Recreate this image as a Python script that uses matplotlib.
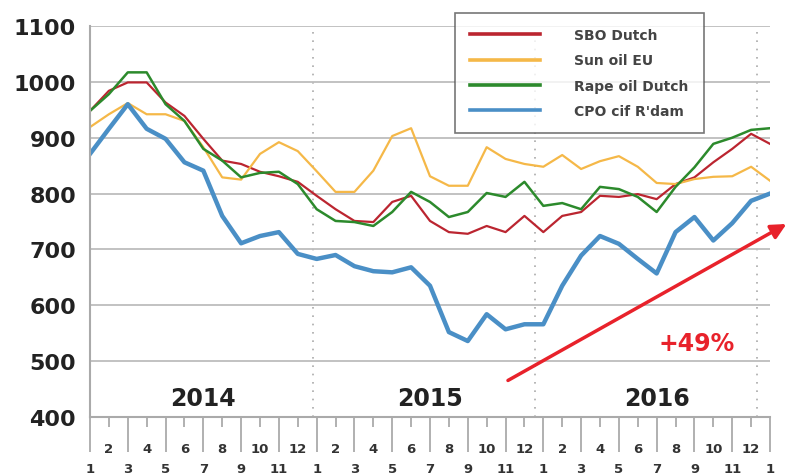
import numpy as np
import matplotlib
matplotlib.use("Agg")
import matplotlib.pyplot as plt

# monthly prices, Jan 2014 .. Jan 2017 (USD/t)
sbo_dutch = [948, 984, 999, 999, 963, 939, 898, 859, 853, 839, 831, 821,
             796, 772, 751, 749, 785, 796, 751, 731, 728, 742, 731, 760,
             731, 760, 767, 796, 794, 799, 790, 817, 829, 856, 880, 907, 889]
sun_oil_eu = [919, 942, 962, 942, 942, 930, 883, 829, 825, 871, 892, 876,
              840, 803, 803, 841, 903, 917, 831, 814, 814, 883, 862, 853,
              848, 869, 844, 858, 867, 848, 819, 817, 826, 830, 831, 848, 823]
rape_oil_dutch = [948, 978, 1017, 1017, 960, 930, 880, 859, 829, 837, 839, 817,
                  772, 751, 749, 742, 767, 803, 785, 758, 767, 801, 794, 821,
                  778, 783, 772, 812, 808, 794, 767, 812, 847, 889, 900, 914, 917]
cpo_rdam = [871, 916, 960, 916, 898, 856, 841, 760, 711, 724, 731, 692,
            683, 690, 670, 661, 659, 668, 635, 552, 536, 584, 557, 566,
            566, 635, 689, 724, 710, 683, 657, 731, 758, 716, 747, 787, 800]

month_labels = [str(m) for m in list(range(1, 13)) * 3 + [1]]
years = ["2014", "2015", "2016"]
year_pos = [6, 18, 30]
year_sep = [11.8, 23.55, 35.3]

x = np.arange(len(cpo_rdam))

fig = plt.figure(figsize=(7.85, 4.77), dpi=100)
ax = fig.add_axes([90 / 785, 1 - 418 / 477, 680 / 785, 391 / 477])

ax.plot(x, sbo_dutch, color="#bb2530", lw=1.6, label="SBO Dutch")
ax.plot(x, sun_oil_eu, color="#f5b848", lw=1.6, label="Sun oil EU")
ax.plot(x, rape_oil_dutch, color="#2c8a2c", lw=1.8, label="Rape oil Dutch")
ax.plot(x, cpo_rdam, color="#4a8fc6", lw=3.2, label="CPO cif R'dam")

ax.set_xlim(0, 36)
ax.set_ylim(400, 1100)
ax.set_yticks(range(400, 1101, 100))
ax.grid(axis="y", color="#bdbdbd", lw=1.3)
ax.set_axisbelow(True)
for xs in year_sep:
    ax.axvline(xs, color="#aaaaaa", lw=1.2, ls=(0, (1, 4)), zorder=0)

for s in ["top", "right"]:
    ax.spines[s].set_visible(False)
for s in ["left", "bottom"]:
    ax.spines[s].set_color("#aaaaaa")
    ax.spines[s].set_linewidth(1.5)

ax.tick_params(axis="y", length=0, pad=10, labelsize=16, labelcolor="#222222")
for t in ax.get_yticklabels():
    t.set_fontweight("bold")

# two-level month axis: long ticks at odd months, short at even
ax.set_xticks(x[::2])
ax.set_xticks(x[1::2], minor=True)
ax.tick_params(axis="x", which="major", length=25, width=1.3, color="#aaaaaa",
               labelbottom=False)
ax.tick_params(axis="x", which="minor", length=7, width=1.3, color="#aaaaaa",
               labelbottom=False)
tr = ax.get_xaxis_transform()
for i, lab in enumerate(month_labels):
    yy = -0.131 if i % 2 == 0 else -0.08
    ax.text(i, yy, lab, transform=tr, ha="center", va="center", fontsize=9.5,
            fontweight="bold", color="#333333", clip_on=False)

for yr, p in zip(years, year_pos):
    ax.text(p, 434, yr, ha="center", va="center", fontsize=17,
            fontweight="bold", color="#222222")

# trend arrow
ax.annotate("", xy=(37.0, 748), xytext=(22.0, 463),
            arrowprops=dict(arrowstyle="-|>,head_length=0.9,head_width=0.45",
                            color="#e8222b", lw=2.5),
            annotation_clip=False)
ax.text(32.1, 532, "+49%", ha="center", va="center", fontsize=17,
        fontweight="bold", color="#e8222b")

leg = fig.legend(loc="upper left", bbox_to_anchor=(455 / 785, 1 - 14 / 477),
                 frameon=True, fancybox=False, fontsize=10, handlelength=5.0,
                 handletextpad=2.5, labelspacing=0.8, borderpad=1.1,
                 borderaxespad=0)
leg.get_frame().set_edgecolor("#555555")
leg.get_frame().set_linewidth(1.2)
for h in leg.legend_handles:
    h.set_linewidth(2.6)
for t in leg.get_texts():
    t.set_fontweight("bold")
    t.set_color("#444444")

fig.savefig("out.png", dpi=100)
